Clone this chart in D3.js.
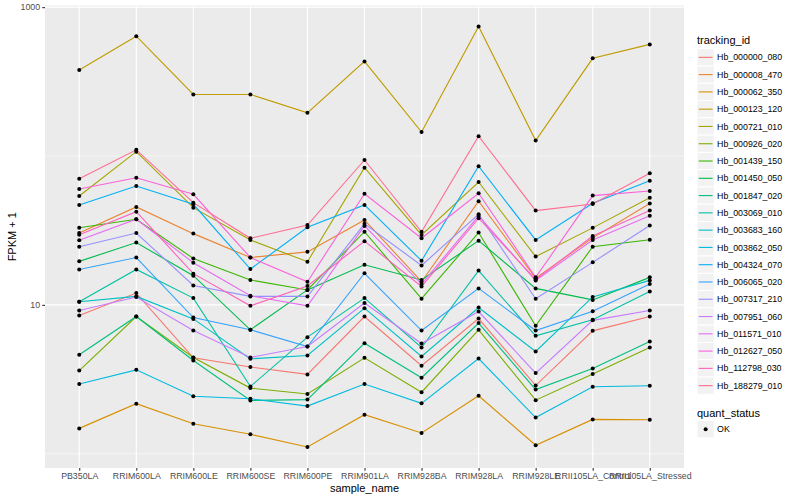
<!DOCTYPE html>
<html>
<head>
<meta charset="utf-8">
<script src="https://cdn.jsdelivr.net/npm/d3@7"></script>
<style>
  body { margin: 0; background: #fff; }
  text { font-family: "Liberation Sans", Arial, sans-serif; }
</style>
</head>
<body>
<svg id="chart" width="800" height="500"></svg>
<script>
// sample names on the x axis
const samples = ["PB350LA", "RRIM600LA", "RRIM600LE", "RRIM600SE", "RRIM600PE", "RRIM901LA",
  "RRIM928BA", "RRIM928LA", "RRIM928LE", "RRII105LA_Control", "RRII105LA_Stressed"];

// FPKM + 1 per gene, one value per sample
const hb_000000_080 = [8.48, 12.0, 4.41, 3.82, 3.41, 8.35, 3.90, 8.09, 2.87, 6.69, 8.35];
const hb_000008_470 = [30.4, 45.5, 30.1, 20.8, 22.7, 37.2, 14.3, 49.7, 15.1, 28.2, 47.9];
const hb_000062_350 = [1.48, 2.17, 1.59, 1.35, 1.11, 1.83, 1.38, 2.45, 1.14, 1.70, 1.69];
const hb_000123_120 = [378, 638, 259, 259, 195, 432, 145, 741, 127, 453, 562];
const hb_000721_010 = [53.9, 107, 45.0, 27.3, 19.5, 83.4, 29.5, 66.9, 21.1, 32.9, 52.5];
const hb_000926_020 = [3.62, 8.35, 4.43, 2.76, 2.52, 4.41, 2.59, 6.80, 2.29, 3.43, 5.17];
const hb_001439_150 = [33.0, 37.6, 20.5, 14.7, 12.6, 31.0, 11.0, 30.6, 7.23, 24.6, 27.4];
const hb_001450_050 = [19.6, 26.2, 15.7, 6.80, 12.6, 18.6, 14.7, 27.0, 12.9, 10.8, 15.3];
const hb_001847_020 = [4.62, 8.35, 4.23, 2.28, 2.31, 5.53, 3.24, 7.54, 2.70, 3.74, 5.67];
const hb_003069_010 = [10.5, 17.3, 11.1, 2.83, 6.07, 11.1, 5.17, 17.0, 6.19, 7.93, 12.3];
const hb_003683_160 = [10.5, 11.4, 8.05, 4.34, 4.57, 9.50, 4.50, 9.59, 4.86, 11.3, 14.6];
const hb_003862_050 = [2.94, 3.66, 2.43, 2.34, 2.09, 2.94, 2.18, 4.36, 1.75, 2.82, 2.86];
const hb_004324_070 = [46.9, 62.9, 47.4, 17.4, 33.2, 46.9, 19.8, 85.3, 27.3, 48.2, 68.3];
const hb_006065_020 = [17.3, 20.8, 8.22, 6.80, 5.25, 16.3, 6.72, 12.9, 6.72, 9.07, 13.8];
const hb_007317_210 = [24.6, 30.4, 13.5, 11.4, 11.4, 35.0, 18.4, 40.6, 11.0, 19.3, 34.1];
const hb_007951_060 = [9.16, 11.3, 6.72, 4.43, 5.25, 10.3, 5.50, 9.02, 3.48, 7.87, 9.16];
const hb_011571_010 = [27.2, 37.6, 19.2, 11.5, 9.85, 33.9, 13.8, 39.6, 14.6, 27.3, 39.7];
const hb_012627_050 = [60.1, 71.5, 55.3, 20.8, 14.3, 55.8, 28.0, 56.2, 15.3, 54.2, 58.2];
const hb_112798_030 = [29.6, 42.3, 16.2, 9.85, 13.4, 26.8, 13.3, 38.2, 14.8, 29.0, 43.0];
const hb_188279_010 = [70.4, 110, 48.6, 28.0, 34.4, 94.0, 31.0, 136, 43.0, 47.6, 76.6];

const trackingIds = ["Hb_000000_080", "Hb_000008_470", "Hb_000062_350", "Hb_000123_120", "Hb_000721_010",
  "Hb_000926_020", "Hb_001439_150", "Hb_001450_050", "Hb_001847_020", "Hb_003069_010",
  "Hb_003683_160", "Hb_003862_050", "Hb_004324_070", "Hb_006065_020", "Hb_007317_210",
  "Hb_007951_060", "Hb_011571_010", "Hb_012627_050", "Hb_112798_030", "Hb_188279_010"];
const seriesValues = [hb_000000_080, hb_000008_470, hb_000062_350, hb_000123_120, hb_000721_010,
  hb_000926_020, hb_001439_150, hb_001450_050, hb_001847_020, hb_003069_010,
  hb_003683_160, hb_003862_050, hb_004324_070, hb_006065_020, hb_007317_210,
  hb_007951_060, hb_011571_010, hb_012627_050, hb_112798_030, hb_188279_010];
const yTicks = [10, 1000];
const yMinor = [1, 100];

// ggplot default hue palette, 20 levels
const colours = ["#F8766D", "#EA8331", "#D89000", "#C09B00", "#A3A500", "#7CAE00", "#39B600", "#00BB4E",
  "#00BF7D", "#00C1A3", "#00BFC4", "#00BAE0", "#00B0F6", "#35A2FF", "#9590FF", "#C77CFF",
  "#E76BF3", "#FA62DB", "#FF62BC", "#FF6C91"];

const series = trackingIds.map((id, i) => ({
  id: id,
  values: seriesValues[i].map((v, j) => ({ sample: samples[j], value: v }))
}));

const margin = { top: 5.5, right: 116, bottom: 32, left: 45 };
const width = 800 - margin.left - margin.right;
const height = 500 - margin.top - margin.bottom;

const svg = d3.select("#chart");
const g = svg.append("g").attr("transform", "translate(" + margin.left + "," + margin.top + ")");

const x = d3.scalePoint().domain(samples).range([0, width]).padding(0.6);

// log scale with ggplot's 5% expansion
const allVals = seriesValues.flat();
const lo = Math.log10(d3.min(allVals)), hi = Math.log10(d3.max(allVals));
const pad = (hi - lo) * 0.05;
const y = d3.scaleLog().domain([Math.pow(10, lo - pad), Math.pow(10, hi + pad)]).range([height, 0]);

const colour = d3.scaleOrdinal().domain(trackingIds).range(colours);

// panel
g.append("rect").attr("width", width).attr("height", height).attr("fill", "#EBEBEB");

g.selectAll(".minor").data(yMinor).enter().append("line")
  .attr("x1", 0).attr("x2", width)
  .attr("y1", d => y(d)).attr("y2", d => y(d))
  .attr("stroke", "#fff").attr("stroke-width", 0.55);
g.selectAll(".hmajor").data(yTicks).enter().append("line")
  .attr("x1", 0).attr("x2", width)
  .attr("y1", d => y(d)).attr("y2", d => y(d))
  .attr("stroke", "#fff").attr("stroke-width", 1.1);
g.selectAll(".vmajor").data(samples).enter().append("line")
  .attr("y1", 0).attr("y2", height)
  .attr("x1", d => x(d)).attr("x2", d => x(d))
  .attr("stroke", "#fff").attr("stroke-width", 1.1);

// axes
const yAxis = g.append("g")
  .call(d3.axisLeft(y).tickValues(yTicks).tickFormat(d3.format("d")).tickSize(2.75).tickPadding(2.2));
const xAxis = g.append("g").attr("transform", "translate(0," + height + ")")
  .call(d3.axisBottom(x).tickSize(2.75).tickPadding(2.2));
[yAxis, xAxis].forEach(a => {
  a.select(".domain").remove();
  a.selectAll(".tick line").attr("stroke", "#333333").attr("stroke-width", 1.1);
  a.selectAll(".tick text").attr("fill", "#4D4D4D").style("font-size", "8.8px")
    .style("font-family", "'Liberation Sans', Arial, sans-serif");
});

// lines and points
const line = d3.line().x(d => x(d.sample)).y(d => y(d.value));
g.selectAll(".series").data(series).enter().append("path")
  .attr("fill", "none")
  .attr("stroke", d => colour(d.id))
  .attr("stroke-width", 1.1)
  .attr("d", d => line(d.values));

g.selectAll(".pts").data(series).enter().append("g")
  .selectAll("circle").data(d => d.values).enter().append("circle")
  .attr("cx", d => x(d.sample)).attr("cy", d => y(d.value))
  .attr("r", 2).attr("fill", "#000");

// axis titles
svg.append("text").attr("x", margin.left + width / 2).attr("y", 492)
  .attr("text-anchor", "middle").style("font-size", "11px").text("sample_name");
svg.append("text")
  .attr("transform", "translate(16," + (margin.top + height / 2) + ") rotate(-90)")
  .attr("text-anchor", "middle").style("font-size", "11px").text("FPKM + 1");

// legend: tracking_id
const leg = svg.append("g").attr("transform", "translate(697,0)");
leg.append("text").attr("x", 0).attr("y", 44).style("font-size", "11px").text("tracking_id");
const key = 17.28;
const items = leg.selectAll(".item").data(trackingIds).enter().append("g")
  .attr("transform", (d, i) => "translate(0," + (48.7 + i * key) + ")");
items.append("rect").attr("width", key).attr("height", key)
  .attr("fill", "#F2F2F2").attr("stroke", "#fff").attr("stroke-width", 1);
items.append("line").attr("x1", 1.7).attr("x2", key - 1.7)
  .attr("y1", key / 2).attr("y2", key / 2)
  .attr("stroke", d => colour(d)).attr("stroke-width", 1.1);
items.append("text").attr("x", key + 2.8).attr("y", key / 2 + 3.1)
  .style("font-size", "8.8px").attr("fill", "#000").text(d => d);

// legend: quant_status
leg.append("text").attr("x", 0).attr("y", 416.5).style("font-size", "11px").text("quant_status");
const ok = leg.append("g").attr("transform", "translate(0,420.5)");
ok.append("rect").attr("width", key).attr("height", key)
  .attr("fill", "#F2F2F2").attr("stroke", "#fff").attr("stroke-width", 1);
ok.append("circle").attr("cx", key / 2).attr("cy", key / 2).attr("r", 2).attr("fill", "#000");
ok.append("text").attr("x", key + 2.8).attr("y", key / 2 + 3.1)
  .style("font-size", "8.8px").text("OK");
</script>
</body>
</html>
